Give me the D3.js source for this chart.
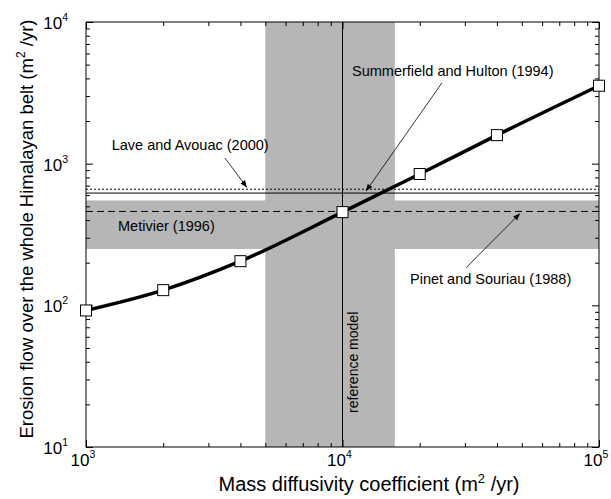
<!DOCTYPE html>
<html>
<head>
<meta charset="utf-8">
<script src="https://cdnjs.cloudflare.com/ajax/libs/d3/7.8.5/d3.min.js"></script>
<style>
    body { margin: 0; background: #fff; }
    text { font-family: "Liberation Sans", Arial, sans-serif; }
</style>
</head>
<body>
<svg width="611" height="499"></svg>
<script>
// DATA
var diffusivity = [1000, 2000, 4000, 10000, 20000, 40000, 100000];
var erosionFlow = [92, 128, 205, 455, 845, 1590, 3550];

var xTicks = [1e3, 1e4, 1e5];
var yTicks = [1e1, 1e2, 1e3, 1e4];
var xExp = ["3", "4", "5"];
var yExp = ["1", "2", "3", "4"];

// shaded ranges
var diffusivityRange = [5000, 16000];
var flowRange = [250, 550];

// reference levels
var laveSolid = 620;
var laveDotted = 660;
var pinetMetivier = 460;
var referenceModel = 10000;

var svg = d3.select("svg");

var x = d3.scaleLog().domain([1e3, 1e5]).range([86, 599]);
var y = d3.scaleLog().domain([10, 1e4]).range([447, 22]);

var defs = svg.append("defs");
defs.append("marker")
    .attr("id", "arrow")
    .attr("viewBox", "0 0 10 10")
    .attr("refX", 10)
    .attr("refY", 5)
    .attr("markerWidth", 7)
    .attr("markerHeight", 7)
    .attr("markerUnits", "userSpaceOnUse")
    .attr("orient", "auto")
    .append("path")
    .attr("d", "M0,1L10,5L0,9Z")
    .attr("fill", "#000");

// BANDS
var bandFill = "#b6b6b6";

svg.append("rect")
    .attr("x", x(diffusivityRange[0]))
    .attr("y", y(1e4))
    .attr("width", x(diffusivityRange[1]) - x(diffusivityRange[0]))
    .attr("height", y(10) - y(1e4))
    .attr("fill", bandFill);

svg.append("rect")
    .attr("x", x(1e3))
    .attr("y", y(flowRange[1]))
    .attr("width", x(1e5) - x(1e3))
    .attr("height", y(flowRange[0]) - y(flowRange[1]))
    .attr("fill", bandFill);

// REFERENCE LINES
function hline(v, dash) {
    svg.append("line")
        .attr("x1", x(1e3)).attr("x2", x(1e5))
        .attr("y1", y(v)).attr("y2", y(v))
        .attr("stroke", "#000")
        .attr("stroke-width", 1)
        .attr("stroke-dasharray", dash);
}
hline(laveSolid, null);
hline(laveDotted, "2,2");
hline(pinetMetivier, "7,4");

svg.append("line")
    .attr("x1", x(referenceModel)).attr("x2", x(referenceModel))
    .attr("y1", y(10)).attr("y2", y(1e4))
    .attr("stroke", "#000")
    .attr("stroke-width", 1);

// AXES (ticks inside, on all four sides)
var minorX = [], minorY = [];
[1e3, 1e4].forEach(function (d) { for (var i = 2; i < 10; i++) minorX.push(d * i); });
[1e1, 1e2, 1e3].forEach(function (d) { for (var i = 2; i < 10; i++) minorY.push(d * i); });

function drawAxis(axisFn, scale, values, size, transform) {
    var g = svg.append("g")
        .attr("transform", transform)
        .call(axisFn(scale).tickValues(values).tickSize(-size).tickFormat(""));
    g.select(".domain").remove();
    g.selectAll(".tick line").attr("stroke", "#000").attr("stroke-width", 1);
}
drawAxis(d3.axisBottom, x, minorX, 4, "translate(0," + y(10) + ")");
drawAxis(d3.axisBottom, x, xTicks, 7, "translate(0," + y(10) + ")");
drawAxis(d3.axisTop, x, minorX, 4, "translate(0," + y(1e4) + ")");
drawAxis(d3.axisTop, x, xTicks, 7, "translate(0," + y(1e4) + ")");
drawAxis(d3.axisLeft, y, minorY, 4, "translate(" + x(1e3) + ",0)");
drawAxis(d3.axisLeft, y, yTicks, 7, "translate(" + x(1e3) + ",0)");
drawAxis(d3.axisRight, y, minorY, 4, "translate(" + x(1e5) + ",0)");
drawAxis(d3.axisRight, y, yTicks, 7, "translate(" + x(1e5) + ",0)");

svg.append("rect")
    .attr("x", x(1e3))
    .attr("y", y(1e4))
    .attr("width", x(1e5) - x(1e3))
    .attr("height", y(10) - y(1e4))
    .attr("fill", "none")
    .attr("stroke", "#000")
    .attr("stroke-width", 1);

// tick labels
xTicks.forEach(function (d, i) {
    var t = svg.append("text")
        .attr("x", x(d) - 3)
        .attr("y", 466)
        .attr("text-anchor", "middle")
        .attr("font-size", "17px");
    t.append("tspan").text("10");
    t.append("tspan").attr("dy", -8).attr("font-size", "10.5px").text(xExp[i]);
});

yTicks.forEach(function (d, i) {
    var t = svg.append("text")
        .attr("x", 68)
        .attr("y", y(d) + 7)
        .attr("text-anchor", "end")
        .attr("font-size", "17px");
    t.append("tspan").text("10");
    t.append("tspan").attr("dy", -8).attr("font-size", "10.5px").text(yExp[i]);
});

// axis titles
var xt = svg.append("text")
    .attr("x", 369)
    .attr("y", 491)
    .attr("text-anchor", "middle")
    .attr("font-size", "20px");
xt.append("tspan").text("Mass diffusivity coefficient (m");
xt.append("tspan").attr("dy", -8).attr("font-size", "13px").text("2");
xt.append("tspan").attr("dy", 8).text(" /yr)");

var yt = svg.append("text")
    .attr("transform", "translate(33," + 229 + ") rotate(-90)")
    .attr("text-anchor", "middle")
    .attr("font-size", "18.5px");
yt.append("tspan").text("Erosion flow over the whole Himalayan belt (m");
yt.append("tspan").attr("dy", -8).attr("font-size", "12px").text("2");
yt.append("tspan").attr("dy", 8).text(" /yr)");

// CURVE
var line = d3.line()
    .x(function (d, i) { return x(diffusivity[i]); })
    .y(function (d) { return y(d); })
    .curve(d3.curveMonotoneX);

svg.append("path")
    .datum(erosionFlow)
    .attr("d", line)
    .attr("fill", "none")
    .attr("stroke", "#000")
    .attr("stroke-width", 3.5);

svg.selectAll(".pt")
    .data(erosionFlow)
    .enter().append("rect")
    .attr("class", "pt")
    .attr("x", function (d, i) { return x(diffusivity[i]) - 5.5; })
    .attr("y", function (d) { return y(d) - 5.5; })
    .attr("width", 11)
    .attr("height", 11)
    .attr("fill", "#fff")
    .attr("stroke", "#000")
    .attr("stroke-width", 1);

// ANNOTATIONS
function label(txt, dx, dy) {
    svg.append("text")
        .attr("x", x(dx))
        .attr("y", y(dy))
        .attr("font-size", "14.5px")
        .text(txt);
}
function arrow(x1, y1, x2, y2) {
    svg.append("line")
        .attr("x1", x(x1)).attr("y1", y(y1))
        .attr("x2", x(x2)).attr("y2", y(y2))
        .attr("stroke", "#000")
        .attr("stroke-width", 0.8)
        .attr("marker-end", "url(#arrow)");
}

label("Lave and Avouac (2000)", 1260, 1250);
arrow(3480, 1096, 4240, 680);

label("Summerfield and Hulton (1994)", 10890, 4160);
arrow(24400, 3710, 12350, 640);

label("Metivier (1996)", 1333, 335);

label("Pinet and Souriau (1988)", 18330, 141);
arrow(30300, 184, 49200, 445);

svg.append("text")
    .attr("transform", "translate(" + x(11490) + "," + y(17.4) + ") rotate(-90)")
    .attr("font-size", "14px")
    .text("reference model");
</script>
</body>
</html>
